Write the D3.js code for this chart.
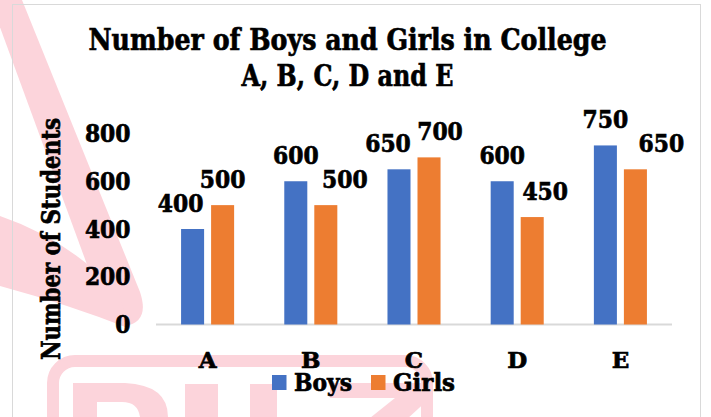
<!DOCTYPE html>
<meta charset="utf-8">
<script src="https://cdn.jsdelivr.net/npm/d3@7"></script>
<style>
  body { margin: 0; background: #fff; }
  text { font-family: "DejaVu Serif", serif; font-weight: bold; fill: #000; stroke: #000; stroke-width: 0.7px; }
</style>
<div id="chart"></div>
<script>
  // data
  const colleges = ["A", "B", "C", "D", "E"];
  const series = ["Boys", "Girls"];
  const boys = [400, 600, 650, 600, 750];
  const girls = [500, 500, 700, 450, 650];
  const yTicks = [0, 200, 400, 600, 800];
  // sideways nudges of the data labels (they were dragged in the original)
  const boysLabelNudge = [-12, 0, -11, 0, 0];
  const girlsLabelNudge = [0, 19, 11, 13, 26];

  const W = 711, H = 417;
  const colors = { Boys: "#4472C4", Girls: "#ED7D31" };

  const svg = d3.select("#chart").append("svg")
    .attr("width", W).attr("height", H);

  // watermark in the background
  const wm = svg.append("g").attr("fill", "#fcd4db").attr("stroke", "none");
  wm.append("path")
    .attr("d", "M-10,0 L22,0 L140,292 Q150,322 125,326 Q110,326 100,300 Z");
  wm.append("path")
    .attr("d", "M0,216 Q70,240 120,295 L128,328 Q70,305 0,286 Z");
  wm.append("rect")
    .attr("x", 53).attr("y", 361).attr("width", 374).attr("height", 90)
    .attr("rx", 22)
    .attr("fill", "none").attr("stroke", "#fcd4db").attr("stroke-width", 12);
  wm.append("path")
    .attr("d", "M73,383 L125,383 Q168,385 168,417 L140,417 Q138,402 122,402 L97,402 L97,417 L73,417 Z");
  wm.append("rect").attr("x", 185).attr("y", 384).attr("width", 33).attr("height", 40);
  wm.append("rect").attr("x", 250).attr("y", 384).attr("width", 27).attr("height", 40);
  wm.append("path")
    .attr("d", "M330,383 L430,383 L430,398 L395,430 L355,430 L395,398 L330,398 Z");

  // chart border
  svg.append("rect")
    .attr("x", 12.5).attr("y", 4.5).attr("width", 688).attr("height", 430)
    .attr("fill", "none").attr("stroke", "#d9d9d9").attr("stroke-width", 1);

  const x = d3.scaleBand().domain(colleges).range([156, 672]).paddingInner(0.486).paddingOuter(0.243);
  const xSub = d3.scaleBand().domain(series).range([0, x.bandwidth()]).paddingInner(0.233);
  const y = d3.scaleLinear().domain([0, 800]).range([324.5, 133.5]);

  // title
  const title = svg.append("g");
  title.append("text").attr("x", 347.5).attr("y", 50)
    .attr("text-anchor", "middle").style("font-size", "30px")
    .attr("textLength", 518).attr("lengthAdjust", "spacingAndGlyphs")
    .text("Number of Boys and Girls in College");
  title.append("text").attr("x", 347.5).attr("y", 86)
    .attr("text-anchor", "middle").style("font-size", "30px")
    .attr("textLength", 212).attr("lengthAdjust", "spacingAndGlyphs")
    .text("A, B, C, D and E");

  // y axis title
  svg.append("text")
    .attr("transform", "translate(60,239) rotate(-90)")
    .attr("text-anchor", "middle").style("font-size", "26px")
    .attr("textLength", 242).attr("lengthAdjust", "spacingAndGlyphs")
    .text("Number of Students");

  // y tick labels (no gridlines, no axis line)
  svg.append("g").selectAll("text")
    .data(yTicks)
    .join("text")
    .attr("x", 130.5)
    .attr("y", d => y(d) + 8.5)
    .attr("text-anchor", "end")
    .style("font-size", "24px")
    .attr("textLength", d => String(d).length * 15.2)
    .attr("lengthAdjust", "spacingAndGlyphs")
    .text(d => d);

  // baseline
  svg.append("line")
    .attr("x1", x.range()[0]).attr("x2", x.range()[1])
    .attr("y1", y(0)).attr("y2", y(0))
    .attr("stroke", "#d9d9d9").attr("stroke-width", 2);

  // bars
  const rows = colleges.map((c, i) => ({
    college: c,
    values: [
      { key: "Boys", value: boys[i], nudge: boysLabelNudge[i] },
      { key: "Girls", value: girls[i], nudge: girlsLabelNudge[i] }
    ]
  }));

  const groups = svg.append("g").selectAll("g")
    .data(rows)
    .join("g")
    .attr("transform", d => `translate(${x(d.college)},0)`);

  groups.selectAll("rect")
    .data(d => d.values)
    .join("rect")
    .attr("x", d => xSub(d.key))
    .attr("y", d => y(d.value))
    .attr("width", xSub.bandwidth())
    .attr("height", d => y(0) - y(d.value))
    .attr("fill", d => colors[d.key]);

  groups.selectAll("text")
    .data(d => d.values)
    .join("text")
    .attr("x", d => xSub(d.key) + xSub.bandwidth() / 2 + d.nudge)
    .attr("y", d => y(d.value) - 17)
    .attr("text-anchor", "middle")
    .style("font-size", "24px")
    .attr("textLength", d => String(d.value).length * 15.2)
    .attr("lengthAdjust", "spacingAndGlyphs")
    .text(d => d.value);

  // x labels
  svg.append("g").selectAll("text")
    .data(colleges)
    .join("text")
    .attr("x", d => x(d) + x.bandwidth() / 2)
    .attr("y", 367.5)
    .attr("text-anchor", "middle")
    .style("font-size", "23px")
    .text(d => d);

  // legend
  const legendX = [272, 371];
  const legendW = [58, 62];
  const legend = svg.append("g").selectAll("g")
    .data(series)
    .join("g")
    .attr("transform", (d, i) => `translate(${legendX[i]},375)`);
  legend.append("rect")
    .attr("width", 14.5).attr("height", 15)
    .attr("fill", d => colors[d]);
  legend.append("text")
    .attr("x", 22).attr("y", 15.5)
    .style("font-size", "24px")
    .attr("textLength", (d, i) => legendW[i])
    .attr("lengthAdjust", "spacingAndGlyphs")
    .text(d => d);
</script>
